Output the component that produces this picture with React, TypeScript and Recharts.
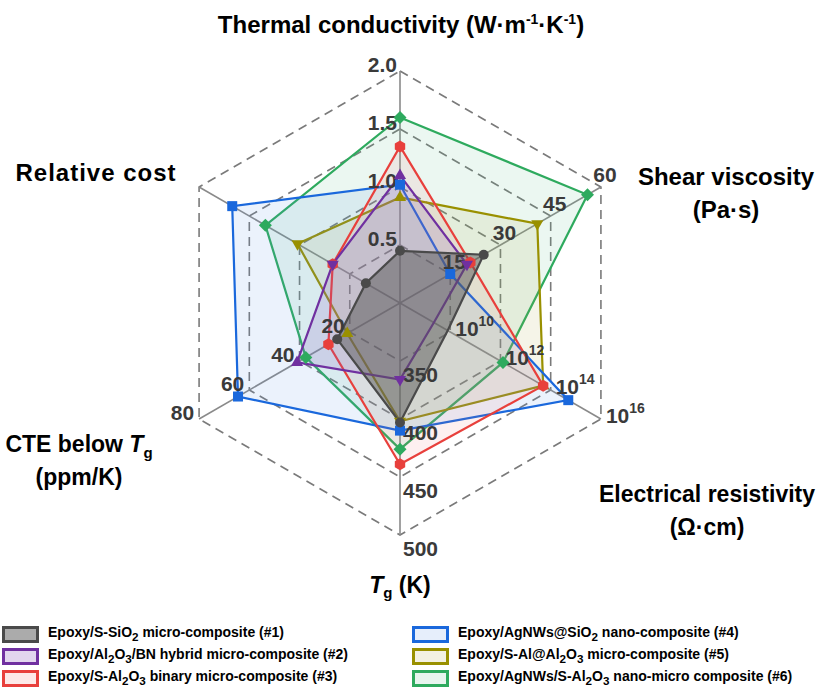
import { RadarChart, Radar, PolarGrid, PolarAngleAxis, PolarRadiusAxis } from "recharts";

const FONT = "'Liberation Sans', Arial, sans-serif";
const CX = 400;
const CY = 303;
const R = 232;

// axes clockwise from top
const axes = ["thermal", "shear", "resistivity", "tg", "cte", "cost"];
const axisMin = [0, 0, 8, 300, 0, 0];
const axisMax = [2, 60, 16, 500, 80, 1];
const axisAngles = [90, 30, -30, -90, -150, 150];

// values per series, in axis order (resistivity as log10 of Ω·cm, cost relative)
const s1 = [0.45, 25, 9.9, 403, 25, 0.17];
const s2 = [1.1, 20, 9.35, 366, 41, 0.335];
const s3 = [1.35, 21, 13.7, 439, 28.5, 0.335];
const s4 = [1.02, 15, 14.7, 410, 64.5, 0.835];
const s5 = [0.91, 41, 13.7, 402, 21, 0.51];
const s6 = [1.6, 56, 12.1, 426, 37.5, 0.67];

const ticks = [0.25, 0.5, 0.75, 1];

const norm = (v: number, i: number) => (v - axisMin[i]) / (axisMax[i] - axisMin[i]);

const data = axes.map((a, i) => ({
  axis: a,
  s1: norm(s1[i], i),
  s2: norm(s2[i], i),
  s3: norm(s3[i], i),
  s4: norm(s4[i], i),
  s5: norm(s5[i], i),
  s6: norm(s6[i], i),
}));

const series = [
  { key: "s1", stroke: "#4a4a4a", fill: "#555555", fillOpacity: 0.5, shape: "circle", hidden: [2] },
  { key: "s2", stroke: "#7030A0", fill: "#8a5cc0", fillOpacity: 0.18, shape: "triangle", hidden: [2] },
  { key: "s3", stroke: "#E8403C", fill: "#f07070", fillOpacity: 0.1, shape: "hexagon", hidden: [] },
  { key: "s4", stroke: "#1A68DC", fill: "#5b95e8", fillOpacity: 0.12, shape: "square", hidden: [] },
  { key: "s5", stroke: "#999000", fill: "#b0a840", fillOpacity: 0.12, shape: "triangle", hidden: [] },
  { key: "s6", stroke: "#2EAA5E", fill: "#5cc08c", fillOpacity: 0.12, shape: "diamond", hidden: [] },
];

const legendItems = [
  { label: <>Epoxy/S-SiO<sub>2</sub> micro-composite (#1)</>, border: "#4a4a4a", bg: "#ababab" },
  { label: <>Epoxy/Al<sub>2</sub>O<sub>3</sub>/BN hybrid micro-composite (#2)</>, border: "#7030A0", bg: "#e2d6ee" },
  { label: <>Epoxy/S-Al<sub>2</sub>O<sub>3</sub> binary micro-composite (#3)</>, border: "#E8403C", bg: "#fde9e8" },
  { label: <>Epoxy/AgNWs@SiO<sub>2</sub> nano-composite (#4)</>, border: "#1A68DC", bg: "#e6eefb" },
  { label: <>Epoxy/S-Al@Al<sub>2</sub>O<sub>3</sub> micro-composite (#5)</>, border: "#999000", bg: "#f3f1e3" },
  { label: <>Epoxy/AgNWs/S-Al<sub>2</sub>O<sub>3</sub> nano-micro composite (#6)</>, border: "#2EAA5E", bg: "#e7f5ee" },
];

function makeDot(shape: string, color: string, hidden: number[]) {
  return (props: any) => {
    const { cx, cy, index } = props;
    const k = `d-${shape}-${index}`;
    if (hidden.includes(index)) return <g key={k} />;
    if (shape === "circle") return <circle key={k} cx={cx} cy={cy} r={5} fill={color} />;
    if (shape === "square") return <rect key={k} x={cx - 5} y={cy - 5} width={10} height={10} fill={color} />;
    if (shape === "diamond")
      return <polygon key={k} points={`${cx},${cy - 6.5} ${cx + 6.5},${cy} ${cx},${cy + 6.5} ${cx - 6.5},${cy}`} fill={color} />;
    if (shape === "hexagon") {
      const pts = [0, 1, 2, 3, 4, 5]
        .map((j) => {
          const a = (Math.PI / 3) * j + Math.PI / 6;
          return `${cx + 6 * Math.cos(a)},${cy + 6 * Math.sin(a)}`;
        })
        .join(" ");
      return <polygon key={k} points={pts} fill={color} />;
    }
    // triangle pointing outward from the centre
    const a = Math.atan2(cy - CY, cx - CX);
    const p = [0, 1, 2]
      .map((j) => {
        const t = a + (2 * Math.PI * j) / 3;
        return `${cx + 7 * Math.cos(t)},${cy + 7 * Math.sin(t)}`;
      })
      .join(" ");
    return <polygon key={k} points={p} fill={color} />;
  };
}

const tickStyle = { fontFamily: FONT, fontWeight: 700, fontSize: 21, fill: "#3a3a3a" };

function tickLabel(i: number, t: number, x: number, y: number) {
  const real = axisMin[i] + t * (axisMax[i] - axisMin[i]);
  const k = `tl-${i}-${t}`;
  if (i === 0)
    return <text key={k} x={x - 3} y={y + 1} textAnchor="end" style={tickStyle}>{real.toFixed(1)}</text>;
  if (i === 1)
    return <text key={k} x={x + 4} y={y - 5} textAnchor="middle" style={tickStyle}>{Math.round(real)}</text>;
  if (i === 2)
    return (
      <text key={k} x={x + 5} y={y + 4} textAnchor="start" style={tickStyle}>
        <tspan>10</tspan>
        <tspan dy={-10} style={{ fontSize: 14 }}>{Math.round(real)}</tspan>
      </text>
    );
  if (i === 3)
    return <text key={k} x={x + 3} y={y + 21} textAnchor="start" style={tickStyle}>{Math.round(real)}</text>;
  if (i === 4)
    return <text key={k} x={x - 5} y={y + 1} textAnchor="end" style={tickStyle}>{Math.round(real)}</text>;
  return null;
}

// per-axis tick labels along each spoke
const AngleTick = (props: any) => {
  const i = axes.indexOf(props.payload.value);
  const rad = (axisAngles[i] * Math.PI) / 180;
  return (
    <g>
      {ticks.map((t) => tickLabel(i, t, CX + R * t * Math.cos(rad), CY - R * t * Math.sin(rad)))}
    </g>
  );
};

const titleStyle: any = {
  position: "absolute",
  transform: "translate(-50%, -50%)",
  fontFamily: FONT,
  fontWeight: 700,
  fontSize: 23,
  color: "#000",
  whiteSpace: "nowrap",
  textAlign: "center",
  lineHeight: "33px",
};

export default function App() {
  return (
    <div style={{ position: "absolute", left: 0, top: 0, width: 827, height: 695, background: "#fff", overflow: "hidden" }}>
      <RadarChart width={827} height={695} data={data} cx={CX} cy={CY} outerRadius={R} margin={{ top: 0, right: 0, bottom: 0, left: 0 }}>
        <PolarGrid gridType="polygon" radialLines={false} stroke="#7a7a7a" strokeWidth={1.6} strokeDasharray="9 6" />
        <PolarGrid gridType="circle" polarRadius={[0]} radialLines stroke="#8a8a8a" strokeWidth={1.6} />
        <PolarAngleAxis dataKey="axis" tick={<AngleTick />} axisLine={false} tickLine={false} />
        <PolarRadiusAxis angle={90} domain={[0, 1]} ticks={ticks} type="number" axisLine={false} tickLine={false} tick={false} />
        {[...series].reverse().map((s) => (
          <Radar
            key={s.key}
            dataKey={s.key}
            stroke={s.stroke}
            strokeWidth={2.2}
            fill={s.fill}
            fillOpacity={s.fillOpacity}
            dot={makeDot(s.shape, s.stroke, s.hidden)}
            isAnimationActive={false}
          />
        ))}
      </RadarChart>

      <div style={{ ...titleStyle, left: 401, top: 22, fontSize: 24 }}>
        Thermal conductivity (W·m<sup style={{ fontSize: 14 }}>-1</sup>·K<sup style={{ fontSize: 14 }}>-1</sup>)
      </div>
      <div style={{ ...titleStyle, left: 726, top: 193, fontSize: 24 }}>
        Shear viscosity
        <br />
        (Pa·s)
      </div>
      <div style={{ ...titleStyle, left: 707, top: 511 }}>
        Electrical resistivity
        <br />
        (Ω·cm)
      </div>
      <div style={{ ...titleStyle, left: 400, top: 585 }}>
        <i>T</i>
        <sub style={{ fontSize: 15, lineHeight: 0 }}>g</sub> (K)
      </div>
      <div style={{ ...titleStyle, left: 79, top: 461 }}>
        CTE below <i>T</i>
        <sub style={{ fontSize: 15, lineHeight: 0 }}>g</sub>
        <br />
        (ppm/K)
      </div>
      <div style={{ ...titleStyle, left: 96, top: 172, fontSize: 24, letterSpacing: 1 }}>Relative cost</div>

      {legendItems.map((it, i) => {
        const col = i < 3 ? 0 : 1;
        const row = i % 3;
        return (
          <div
            key={`lg-${i}`}
            style={{
              position: "absolute",
              left: col === 0 ? 2 : 412,
              top: 626 + row * 22,
              height: 17,
              display: "flex",
              alignItems: "center",
              fontFamily: FONT,
              fontWeight: 700,
              fontSize: 14,
              whiteSpace: "nowrap",
              lineHeight: "17px",
            }}
          >
            <div style={{ width: 31, height: 11, border: `3px solid ${it.border}`, background: it.bg, marginRight: 9 }} />
            <span>{it.label}</span>
          </div>
        );
      })}
    </div>
  );
}
